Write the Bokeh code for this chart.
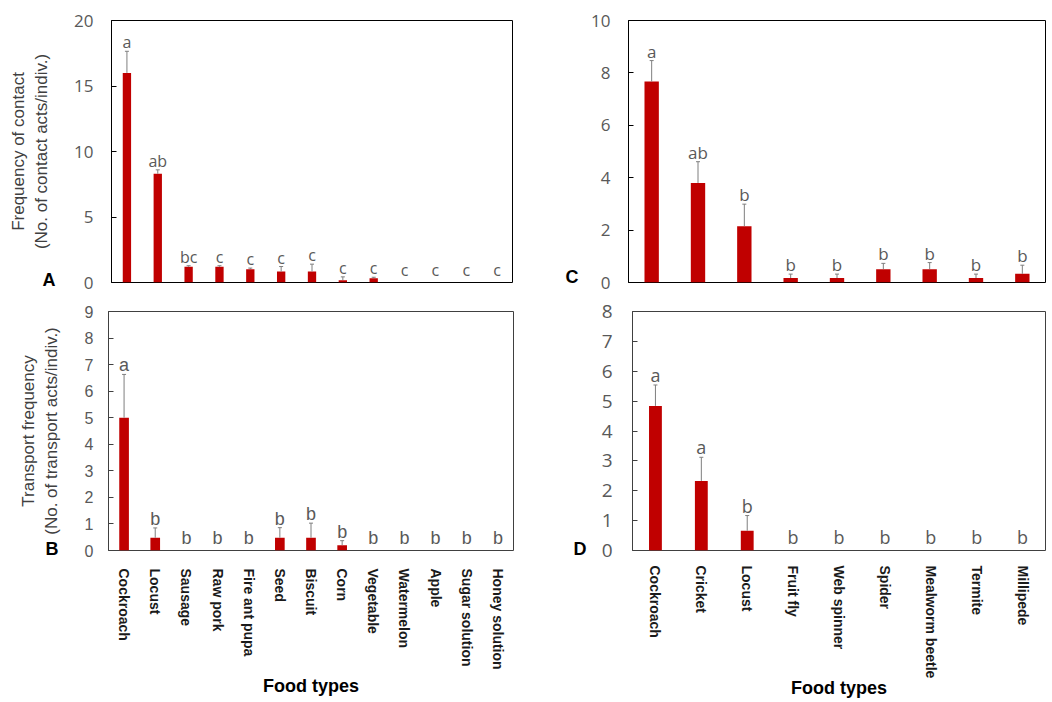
from bokeh.plotting import figure
from bokeh.models import FactorRange, Range1d, FixedTicker, ColumnDataSource, LabelSet, Title
from bokeh.layouts import column, row
from bokeh.embed import file_html
from bokeh.resources import INLINE
from bokeh.core.properties import value

# ---------------- data ----------------
foods_ab = ["Cockroach", "Locust", "Sausage", "Raw pork", "Fire ant pupa", "Seed", "Biscuit",
            "Corn", "Vegetable", "Watermelon", "Apple", "Sugar solution", "Honey solution"]
contact_mean = [16.0, 8.3, 1.2, 1.2, 1.02, 0.84, 0.84, 0.18, 0.33, 0, 0, 0, 0]
contact_se = [1.65, 0.3, 0.08, 0.08, 0.08, 0.38, 0.56, 0.25, 0.07, 0, 0, 0, 0]
contact_letters = ["a", "ab", "bc", "c", "c", "c", "c", "c", "c", "c", "c", "c", "c"]

transport_mean = [5.0, 0.48, 0, 0, 0, 0.48, 0.48, 0.2, 0, 0, 0, 0, 0]
transport_se = [1.63, 0.37, 0, 0, 0, 0.38, 0.55, 0.17, 0, 0, 0, 0, 0]
transport_letters = ["a", "b", "b", "b", "b", "b", "b", "b", "b", "b", "b", "b", "b"]

foods_cd = ["Cockroach", "Cricket", "Locust", "Fruit fly", "Web spinner", "Spider",
            "Mealworm beetle", "Termite", "Millipede"]
contact2_mean = [7.67, 3.8, 2.15, 0.17, 0.17, 0.51, 0.51, 0.17, 0.33]
contact2_se = [0.8, 0.81, 0.84, 0.15, 0.15, 0.22, 0.25, 0.15, 0.33]
contact2_letters = ["a", "ab", "b", "b", "b", "b", "b", "b", "b"]

transport2_mean = [4.84, 2.33, 0.66, 0, 0, 0, 0, 0, 0]
transport2_se = [0.7, 0.79, 0.51, 0, 0, 0, 0, 0, 0]
transport2_letters = ["a", "a", "b", "b", "b", "b", "b", "b", "b"]

BAR = "#C00000"
ERR = "#7f7f7f"
TXT = "#595959"


def panel(cats, mean, se, letters, y_end, ticks, width, height, borders, tick_font,
          tick_size, letter_font, letter_size, bar_w, tag, tag_dx, tag_standoff, ytitle=None,
          show_x=False, outline="#000000", label_standoff=18, title_standoff=20,
          x_standoff=12, x_title_standoff=4):
    left, right, top, bottom = borders
    p = figure(x_range=FactorRange(factors=cats, range_padding=0), y_range=Range1d(0, y_end),
               width=width, height=height, min_border_left=left, min_border_right=right,
               min_border_top=top, min_border_bottom=bottom,
               output_backend="svg", toolbar_location=None)
    p.xgrid.visible = False
    p.ygrid.visible = False
    p.outline_line_color = outline
    p.outline_line_width = 1
    p.background_fill_color = "white"
    p.border_fill_color = "white"

    tops = [m + s for m, s in zip(mean, se)]
    p.vbar(x=cats, top=mean, width=bar_w, fill_color=BAR, line_color=None)

    ex = [c for c, s in zip(cats, se) if s > 0]
    e0 = [m for m, s in zip(mean, se) if s > 0]
    e1 = [m + s for m, s in zip(mean, se) if s > 0]
    p.segment(x0=ex, y0=e0, x1=ex, y1=e1, line_color=ERR, line_width=1)
    p.scatter(x=ex, y=e1, marker="dash", size=4, line_color=ERR, line_width=1)

    src = ColumnDataSource(dict(x=cats, y=tops, t=letters,
                                off=[3 if t > 0 else 7 for t in tops]))
    p.add_layout(LabelSet(x="x", y="y", text="t", source=src, y_offset="off",
                          text_align="center", text_baseline="alphabetic",
                          text_font=value(letter_font), text_font_size=letter_size,
                          text_color=TXT))

    ax = p.yaxis[0]
    ax.ticker = FixedTicker(ticks=ticks)
    ax.major_tick_in = 5
    ax.major_tick_out = 0
    ax.minor_tick_line_color = None
    ax.axis_line_color = outline
    ax.major_tick_line_color = outline
    ax.major_label_text_font = tick_font
    ax.major_label_text_font_size = tick_size
    ax.major_label_text_color = TXT
    ax.major_label_standoff = label_standoff
    if ytitle:
        ax.axis_label = ytitle
        ax.axis_label_text_font = "Liberation Sans"
        ax.axis_label_text_font_style = "normal"
        ax.axis_label_text_font_size = "17px"
        ax.axis_label_text_color = "#404040"
        ax.axis_label_standoff = title_standoff

    xa = p.xaxis[0]
    if show_x:
        xa.major_label_orientation = "vertical"
        xa.major_label_text_font = "Liberation Sans"
        xa.major_label_text_font_style = "bold"
        xa.major_label_text_font_size = "14px"
        xa.major_label_text_color = "#1a1a1a"
        xa.major_label_standoff = x_standoff
        xa.major_tick_line_color = None
        xa.axis_line_color = None
        xa.axis_label = "Food types"
        xa.axis_label_text_font = "Liberation Sans"
        xa.axis_label_text_font_style = "bold"
        xa.axis_label_text_font_size = "18px"
        xa.axis_label_text_color = "#000000"
        xa.axis_label_standoff = x_title_standoff
    else:
        xa.visible = False

    # panel letter, placed just below the frame, to the left of the y axis
    tag_title = Title(text=tag, align="left", offset=tag_dx, standoff=tag_standoff,
                      vertical_align="top", text_font="Liberation Sans",
                      text_font_style="bold", text_font_size="18px", text_color="#000000")
    p.below = [tag_title] + list(p.below)
    return p


pA = panel(foods_ab, contact_mean, contact_se, contact_letters, 20, [0, 5, 10, 15, 20],
           540, 295, (111, 28, 20, 13), "Open Sans", "17px", "Open Sans", "16px", 0.27,
           "A", -69, -25, ytitle="Frequency of contact\n(No. of contact acts/indiv.)",
           label_standoff=18, title_standoff=20)
pB = panel(foods_ab, transport_mean, transport_se, transport_letters, 9, list(range(10)),
           540, 406, (108, 27, 14, 148), "Liberation Sans", "16px", "Liberation Sans", "18px",
           0.31, "B", -63, -23, ytitle="Transport frequency\n(No. of transport acts/indiv.)",
           show_x=True, outline="#404040", label_standoff=15, title_standoff=21,
           x_standoff=12, x_title_standoff=3)
pC = panel(foods_cd, contact2_mean, contact2_se, contact2_letters, 10, [0, 2, 4, 6, 8, 10],
           512, 295, (88, 7, 20, 13), "Open Sans", "17px", "Open Sans", "17px", 0.31,
           "C", -63, -31, label_standoff=18)
pD = panel(foods_cd, transport2_mean, transport2_se, transport2_letters, 8, list(range(9)),
           512, 406, (92, 7, 16, 150), "Open Sans", "19px", "Open Sans", "18px", 0.28,
           "D", -59, -23, show_x=True, outline="#404040", label_standoff=20,
           x_standoff=9, x_title_standoff=-3)

layout = column(row(pA, pC), row(pB, pD))
open("out.html", "w").write(file_html(layout, INLINE))
